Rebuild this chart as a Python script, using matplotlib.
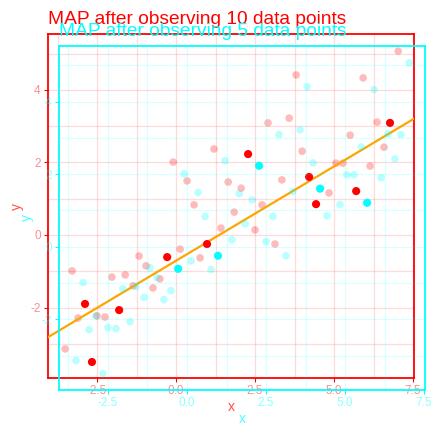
import matplotlib.pyplot as plt
from matplotlib.ticker import MultipleLocator, FormatStrFormatter

plt.rcParams['font.family'] = ['Liberation Sans', 'DejaVu Sans']

# samples not yet observed
x_rest = [1.20, -0.09, 0.35, 1.65, 0.57, 1.84, 1.42, 0.13, -1.17, 0.76,
          -3.29, -0.95, -2.03, -1.61, -0.51, -1.36, -0.73, -3.10, -2.50, -2.25,
          -3.51, 7.03, 3.80, 5.92, 2.91, 3.58, 6.36, 5.51, 3.99, 6.58,
          2.06, 3.35, 5.06, 5.28, 6.14, 4.84, 2.72, 2.50, 3.13]
y_rest = [2.37, 2.01, 1.49, 1.46, 0.83, 0.63, 0.19, -0.39, -0.58, -0.63,
          -0.99, -0.85, -1.16, -1.10, -1.21, -1.40, -1.46, -2.29, -2.23, -2.26,
          -3.14, 5.07, 4.41, 4.33, 3.09, 3.22, 3.11, 2.75, 2.31, 2.42,
          1.29, 1.52, 1.98, 1.98, 1.90, 1.16, 0.83, 0.14, -0.25]

# observed points, in arrival order
x_obs = [-0.28, 0.98, 2.28, 4.21, 5.70, 6.77, -2.88, -1.80, -2.66, 4.43]
y_obs = [-0.61, -0.25, 2.23, 1.60, 1.21, 3.09, -1.90, -2.07, -3.50, 0.85]

n_seen = [10, 5]
colors = ['red', 'cyan']
map_w0, map_w1 = -0.71, 0.52

xlim = (-4.06, 7.54)
ylim = (-3.95, 5.54)

x_all = x_rest + x_obs
y_all = y_rest + y_obs

fig = plt.figure(figsize=(4.35, 4.25), dpi=100)
ax_r = fig.add_axes([0.1097, 0.1099, 0.8428, 0.8101])
ax_c = fig.add_axes([0.1349, 0.0824, 0.8428, 0.8101])
ax_c.patch.set_alpha(0)


def style(ax, color, n):
    ax.set_xlim(xlim)
    ax.set_ylim(ylim)
    ax.xaxis.set_major_locator(MultipleLocator(2.5))
    ax.xaxis.set_minor_locator(MultipleLocator(1.25))
    ax.yaxis.set_major_locator(MultipleLocator(2))
    ax.yaxis.set_minor_locator(MultipleLocator(1))
    ax.xaxis.set_major_formatter(FormatStrFormatter('%.1f'))
    ax.yaxis.set_major_formatter(FormatStrFormatter('%d'))
    ax.grid(True, which='both', color=color, alpha=0.14, linewidth=0.9)
    ax.set_axisbelow(True)
    for sp in ax.spines.values():
        sp.set_color(color)
        sp.set_linewidth(1.3)
    ax.tick_params(which='major', colors=color, labelcolor=color, labelsize=8.5,
                   length=3, width=0.8, pad=2)
    for lab in ax.get_xticklabels() + ax.get_yticklabels():
        lab.set_alpha(0.45)
    ax.tick_params(which='minor', length=0)
    ax.set_xlabel('x', color=color, fontsize=10, labelpad=2, alpha=0.7)
    ax.set_ylabel('y', color=color, fontsize=10, labelpad=5, alpha=0.7)
    ax.set_title(f'MAP after observing {n} data points', loc='left',
                 color=color, fontsize=13.8, pad=7)


for ax, color, n in zip([ax_r, ax_c], colors, n_seen):
    style(ax, color, n)
    ax.scatter(x_all, y_all, s=30, color=color, alpha=0.27, edgecolors='none', zorder=2)
    ax.scatter(x_obs[:n], y_obs[:n], s=34, color=color, edgecolors='none', zorder=4)

ax_r.axline((0, map_w0), slope=map_w1, color='orange', linewidth=1.6, zorder=3)

plt.savefig('out.png', dpi=100)
